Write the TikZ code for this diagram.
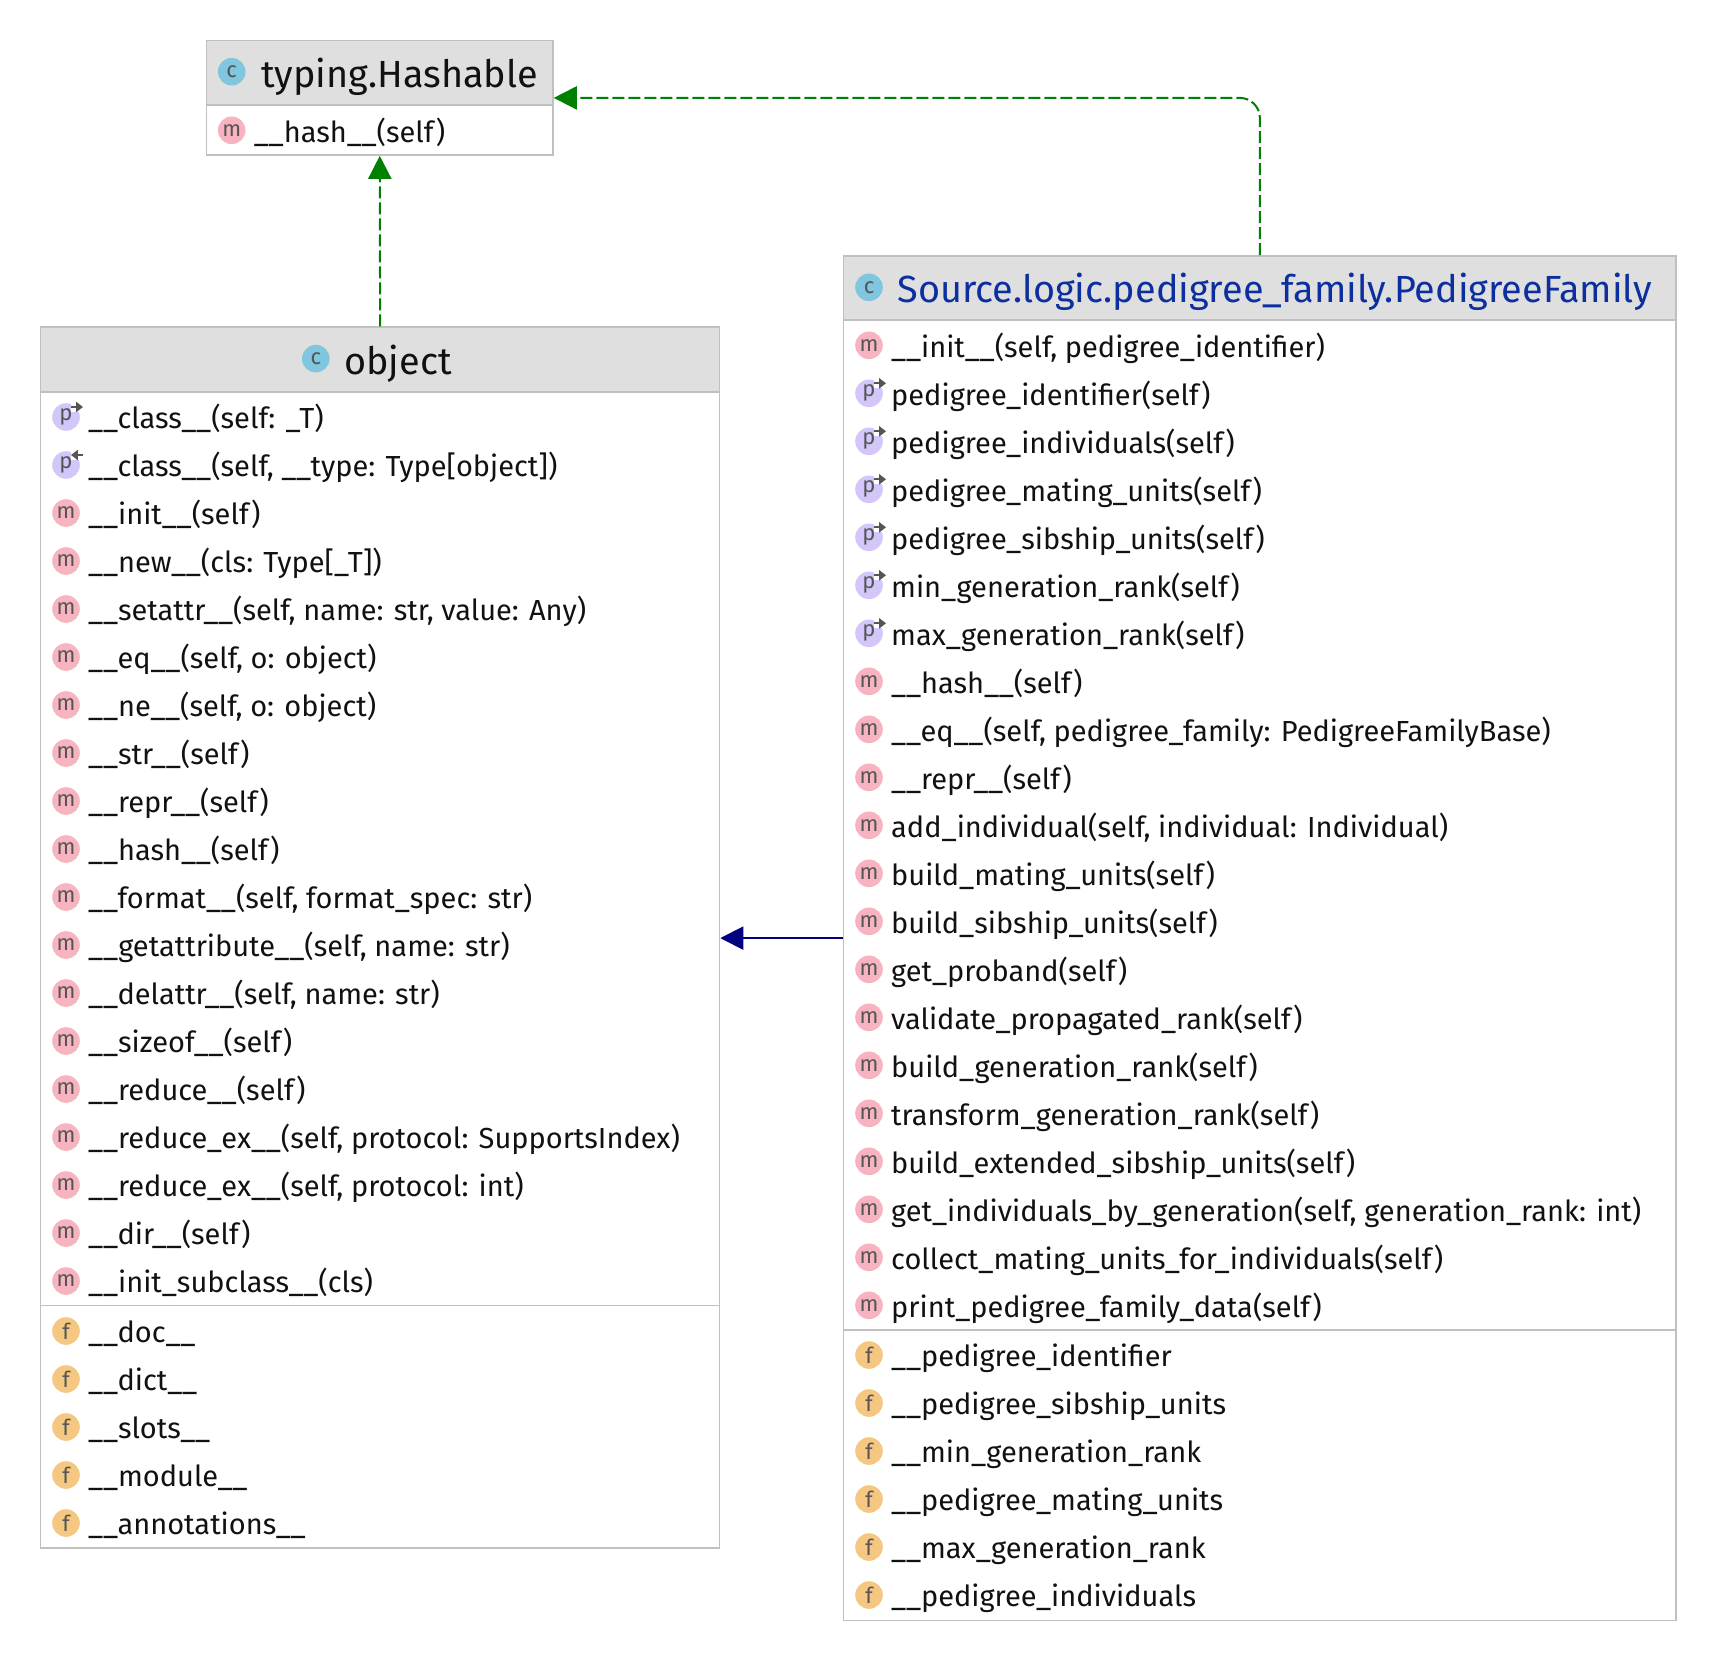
\documentclass[tikz,border=0pt]{standalone}
\usepackage{fontspec}
\setmainfont{Fira Sans}
\usetikzlibrary{arrows.meta}
\definecolor{hdr}{HTML}{DFDFDF}
\definecolor{bord}{HTML}{C0C0C0}
\definecolor{icC}{HTML}{7FC6DE}
\definecolor{icM}{HTML}{F8B3C1}
\definecolor{icP}{HTML}{D3C6F8}
\definecolor{icF}{HTML}{F6C780}
\definecolor{iclet}{HTML}{555555}
\definecolor{ink}{HTML}{111111}
\definecolor{titleblue}{HTML}{0B2F9E}
\definecolor{implgreen}{HTML}{008000}
\definecolor{extnavy}{HTML}{000080}
\newcommand\bodyfont{\fontsize{14.5}{16}\selectfont}
\newcommand\titlefont{\fontsize{18.9}{20}\selectfont}
\newcommand\iconfont{\fontsize{11}{12}\selectfont}
\tikzset{
  x=0.5pt,y=-0.5pt,
  umlbox/.style={draw=bord,line width=0.75pt,fill=white,rectangle,inner sep=0pt},
  umlhead/.style={draw=bord,line width=0.75pt,fill=hdr,rectangle,inner sep=0pt},
  sepline/.style={draw=bord,line width=0.75pt},
  ic/.style={circle,inner sep=0pt,minimum size=13.8pt,text=iclet,font=\iconfont},
  rowtext/.style={anchor=base west,inner sep=0pt,text=ink,font=\bodyfont},
  titletext/.style={anchor=base west,inner sep=0pt,text=ink,font=\titlefont},
  impl/.style={draw=implgreen,line width=1pt,dash pattern=on 6pt off 2pt,-{Triangle[length=11.5pt,width=11.5pt,fill=implgreen]}},
  ext/.style={draw=extnavy,line width=1pt,-{Triangle[length=11.5pt,width=11.5pt,fill=extnavy]}},
  propnotch/.style={fill=white,draw=none},
  proparrow/.style={draw=iclet,line width=1pt,-{Triangle[length=3.4pt,width=5pt]}},
}
% name, icon x, y, letter, fill, text
\newcommand\umlrow[6]{%
  \node[ic,fill=#5] (#1i) at (#2,#3) {#4};
  \pgfmathsetmacro\basey{#3+11.7}
  \node[rowtext] (#1t) at (#2+21.8,\basey) {#6};
}
\newcommand\getter[3]{% name x y
  \fill[propnotch] (#2+5,#3-15) rectangle (#2+17,#3-5.5);
  \draw[proparrow] (#2+5,#3-10) -- (#2+17,#3-10);
}
\newcommand\setter[3]{%
  \fill[propnotch] (#2+5,#3-15) rectangle (#2+17,#3-5.5);
  \draw[proparrow] (#2+17,#3-10) -- (#2+5,#3-10);
}
\begin{document}
\begin{tikzpicture}
\useasboundingbox (0,0) rectangle (1718,1662);
\fill[white] (0,0) rectangle (1718,1662);

% ---- typing.Hashable
\node[umlbox,minimum width=173.25pt,minimum height=57.15pt] (hashable) at (379.75,97.9) {};
\node[umlhead,minimum width=173.25pt,minimum height=32.15pt] (hashableH) at (379.75,72.85) {};
\node[ic,fill=icC] (hashableI) at (231.7,71.7) {c};
\node[titletext] (hashableT) at (261,87.5) {typing.Hashable};
\umlrow{hr}{231.7}{130.3}{m}{icM}{\_\_hash\_\_(self)}

% ---- object
\node[umlbox,minimum width=339.4pt,minimum height=610.5pt] (object) at (380.1,937.5) {};
\node[umlhead,minimum width=339.4pt,minimum height=32.5pt] (objectH) at (380.1,359.5) {};
\node[ic,fill=icC] (objectI) at (315.8,358.6) {c};
\node[titletext] (objectT) at (344,374.5) {object};
\coordinate (osepL) at (40.7,1305.7);
\coordinate (osepR) at (719.5,1305.7);
\draw[sepline] (osepL) -- (osepR);
\umlrow{o1}{66}{417}{p}{icP}{\_\_class\_\_(self: \_T)}
\getter{o1}{66}{417}
\umlrow{o2}{66}{465}{p}{icP}{\_\_class\_\_(self, \_\_type: Type[object])}
\setter{o2}{66}{465}
\umlrow{o3}{66}{513}{m}{icM}{\_\_init\_\_(self)}
\umlrow{o4}{66}{561}{m}{icM}{\_\_new\_\_(cls: Type[\_T])}
\umlrow{o5}{66}{609}{m}{icM}{\_\_setattr\_\_(self, name: str, value: Any)}
\umlrow{o6}{66}{657}{m}{icM}{\_\_eq\_\_(self, o: object)}
\umlrow{o7}{66}{705}{m}{icM}{\_\_ne\_\_(self, o: object)}
\umlrow{o8}{66}{753}{m}{icM}{\_\_str\_\_(self)}
\umlrow{o9}{66}{801}{m}{icM}{\_\_repr\_\_(self)}
\umlrow{o10}{66}{849}{m}{icM}{\_\_hash\_\_(self)}
\umlrow{o11}{66}{897}{m}{icM}{\_\_format\_\_(self, format\_spec: str)}
\umlrow{o12}{66}{945}{m}{icM}{\_\_getattribute\_\_(self, name: str)}
\umlrow{o13}{66}{993}{m}{icM}{\_\_delattr\_\_(self, name: str)}
\umlrow{o14}{66}{1041}{m}{icM}{\_\_sizeof\_\_(self)}
\umlrow{o15}{66}{1089}{m}{icM}{\_\_reduce\_\_(self)}
\umlrow{o16}{66}{1137}{m}{icM}{\_\_reduce\_ex\_\_(self, protocol: SupportsIndex)}
\umlrow{o17}{66}{1185}{m}{icM}{\_\_reduce\_ex\_\_(self, protocol: int)}
\umlrow{o18}{66}{1233}{m}{icM}{\_\_dir\_\_(self)}
\umlrow{o19}{66}{1281}{m}{icM}{\_\_init\_subclass\_\_(cls)}
\umlrow{of1}{66}{1331}{f}{icF}{\_\_doc\_\_}
\umlrow{of2}{66}{1379}{f}{icF}{\_\_dict\_\_}
\umlrow{of3}{66}{1427}{f}{icF}{\_\_slots\_\_}
\umlrow{of4}{66}{1475}{f}{icF}{\_\_module\_\_}
\umlrow{of5}{66}{1523}{f}{icF}{\_\_annotations\_\_}

% ---- PedigreeFamily
\node[umlbox,minimum width=416.15pt,minimum height=682.25pt] (family) at (1259.85,938.1) {};
\node[umlhead,minimum width=416.15pt,minimum height=32.15pt] (familyH) at (1259.85,288) {};
\node[ic,fill=icC] (familyI) at (869,287.3) {c};
\node[titletext,text=titleblue] (familyT) at (897,302.5) {Source.logic.pedigree\_family.PedigreeFamily};
\coordinate (fsepL) at (843.7,1330);
\coordinate (fsepR) at (1676,1330);
\draw[sepline] (fsepL) -- (fsepR);
\umlrow{f1}{869}{345.3}{m}{icM}{\_\_init\_\_(self, pedigree\_identifier)}
\umlrow{f2}{869}{393.3}{p}{icP}{pedigree\_identifier(self)}
\getter{f2}{869}{393.3}
\umlrow{f3}{869}{441.3}{p}{icP}{pedigree\_individuals(self)}
\getter{f3}{869}{441.3}
\umlrow{f4}{869}{489.3}{p}{icP}{pedigree\_mating\_units(self)}
\getter{f4}{869}{489.3}
\umlrow{f5}{869}{537.3}{p}{icP}{pedigree\_sibship\_units(self)}
\getter{f5}{869}{537.3}
\umlrow{f6}{869}{585.3}{p}{icP}{min\_generation\_rank(self)}
\getter{f6}{869}{585.3}
\umlrow{f7}{869}{633.3}{p}{icP}{max\_generation\_rank(self)}
\getter{f7}{869}{633.3}
\umlrow{f8}{869}{681.3}{m}{icM}{\_\_hash\_\_(self)}
\umlrow{f9}{869}{729.3}{m}{icM}{\_\_eq\_\_(self, pedigree\_family: PedigreeFamilyBase)}
\umlrow{f10}{869}{777.3}{m}{icM}{\_\_repr\_\_(self)}
\umlrow{f11}{869}{825.3}{m}{icM}{add\_individual(self, individual: Individual)}
\umlrow{f12}{869}{873.3}{m}{icM}{build\_mating\_units(self)}
\umlrow{f13}{869}{921.3}{m}{icM}{build\_sibship\_units(self)}
\umlrow{f14}{869}{969.3}{m}{icM}{get\_proband(self)}
\umlrow{f15}{869}{1017.3}{m}{icM}{validate\_propagated\_rank(self)}
\umlrow{f16}{869}{1065.3}{m}{icM}{build\_generation\_rank(self)}
\umlrow{f17}{869}{1113.3}{m}{icM}{transform\_generation\_rank(self)}
\umlrow{f18}{869}{1161.3}{m}{icM}{build\_extended\_sibship\_units(self)}
\umlrow{f19}{869}{1209.3}{m}{icM}{get\_individuals\_by\_generation(self, generation\_rank: int)}
\umlrow{f20}{869}{1257.3}{m}{icM}{collect\_mating\_units\_for\_individuals(self)}
\umlrow{f21}{869}{1305.3}{m}{icM}{print\_pedigree\_family\_data(self)}
\umlrow{ff1}{869}{1355}{f}{icF}{\_\_pedigree\_identifier}
\umlrow{ff2}{869}{1403}{f}{icF}{\_\_pedigree\_sibship\_units}
\umlrow{ff3}{869}{1451}{f}{icF}{\_\_min\_generation\_rank}
\umlrow{ff4}{869}{1499}{f}{icF}{\_\_pedigree\_mating\_units}
\umlrow{ff5}{869}{1547}{f}{icF}{\_\_max\_generation\_rank}
\umlrow{ff6}{869}{1595}{f}{icF}{\_\_pedigree\_individuals}

% ---- connectors
\draw[impl] (object.north) -- (hashable.south);
\draw[impl,rounded corners=10pt] (family.north) |- (hashable.east);
\draw[ext] (family.west) -- (family.west -| object.east);
\end{tikzpicture}
\end{document}
